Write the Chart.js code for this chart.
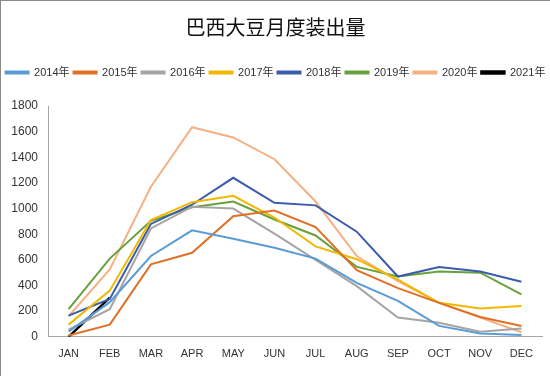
<!DOCTYPE html>
<html lang="zh">
<head>
    <meta charset="UTF-8">
    <title>巴西大豆月度装出量</title>
    <script src="https://cdn.jsdelivr.net/npm/chart.js@4/dist/chart.umd.min.js"></script>
    <style>
        body {
            margin: 0;
            background: #fff;
        }

        .frame {
            width: 550px;
            height: 376px;
            box-sizing: border-box;
            border-left: 1px solid #8a8a8a;
            border-top: 1px solid #8a8a8a;
            position: relative;
        }
    </style>
</head>
<body>
    <div class="frame">
        <canvas id="exportChart"></canvas>
    </div>

    <script>
        const months = ['JAN', 'FEB', 'MAR', 'APR', 'MAY', 'JUN', 'JUL', 'AUG', 'SEP', 'OCT', 'NOV', 'DEC'];

        const y2014 = [40, 270, 630, 830, 765, 695, 610, 420, 280, 85, 25, 15];
        const y2015 = [10, 95, 565, 655, 940, 985, 855, 520, 380, 265, 155, 85];
        const y2016 = [55, 215, 845, 1015, 1000, 805, 600, 395, 150, 110, 40, 65];
        const y2017 = [95, 360, 910, 1050, 1100, 930, 705, 605, 445, 265, 220, 240];
        const y2018 = [165, 295, 880, 1030, 1240, 1045, 1025, 820, 470, 545, 510, 430];
        const y2019 = [215, 610, 905, 1010, 1055, 915, 790, 545, 470, 510, 500, 330];
        const y2020 = [160, 525, 1170, 1635, 1555, 1385, 1055, 630, 435, 265, 150, 35];
        const y2021 = [0, 305];

        const yTicks = [0, 200, 400, 600, 800, 1000, 1200, 1400, 1600, 1800];

        function series(label, data, color, width) {
            return {
                label: label,
                data: data,
                xAxisID: 'x',
                yAxisID: 'y',
                borderColor: color,
                backgroundColor: color,
                borderWidth: width || 2,
                pointRadius: 0,
                tension: 0,
                fill: false
            };
        }

        // blank axes used only as spacers around the plot
        const spacer = size => ({
            grid: { display: false, drawTicks: false },
            border: { display: false },
            ticks: { display: false },
            afterFit: axis => {
                if (axis.isHorizontal()) axis.height = size;
                else axis.width = size;
            }
        });

        new Chart(document.getElementById('exportChart'), {
            type: 'line',
            data: {
                labels: months,
                datasets: [
                    series('2014年', y2014, '#5B9BD5'),
                    series('2015年', y2015, '#E07026'),
                    series('2016年', y2016, '#A5A5A5'),
                    series('2017年', y2017, '#F2B800'),
                    series('2018年', y2018, '#3A5CAB'),
                    series('2019年', y2019, '#67A03C'),
                    series('2020年', y2020, '#F4B183'),
                    series('2021年', y2021, '#000000', 2.5)
                ]
            },
            options: {
                responsive: true,
                maintainAspectRatio: false,
                animation: false,
                layout: {
                    padding: { top: 14, left: 0, right: 0, bottom: 4 }
                },
                plugins: {
                    title: {
                        display: true,
                        text: '巴西大豆月度装出量',
                        color: '#111',
                        font: { family: '"Noto Sans CJK SC"', size: 20, weight: 'normal' },
                        padding: { top: 0, bottom: 24 }
                    },
                    legend: {
                        display: true,
                        position: 'top',
                        labels: {
                            boxWidth: 23,
                            boxHeight: 2,
                            padding: 4,
                            color: '#333',
                            font: { family: '"Liberation Sans", "Noto Sans CJK SC"', size: 11 }
                        }
                    },
                    tooltip: { enabled: false }
                },
                scales: {
                    x: {
                        offset: true,
                        grid: { display: false, drawTicks: false },
                        border: { display: true, color: '#A6A6A6', width: 1 },
                        ticks: {
                            padding: 11,
                            color: '#333',
                            font: { family: '"Liberation Sans"', size: 11 }
                        }
                    },
                    xTop: Object.assign({ type: 'category', position: 'top' }, spacer(18)),
                    y: {
                        min: 0,
                        max: 1800,
                        afterBuildTicks: axis => {
                            axis.ticks = yTicks.map(v => ({ value: v }));
                        },
                        afterFit: axis => { axis.width = 47; },
                        grid: { display: false, drawTicks: false },
                        border: { display: true, color: '#A6A6A6', width: 1 },
                        ticks: {
                            padding: 10,
                            color: '#333',
                            font: { family: '"Liberation Sans"', size: 12 },
                            callback: v => String(v)
                        }
                    },
                    yRight: Object.assign({ type: 'linear', position: 'right' }, spacer(8))
                }
            }
        });
    </script>
</body>
</html>
